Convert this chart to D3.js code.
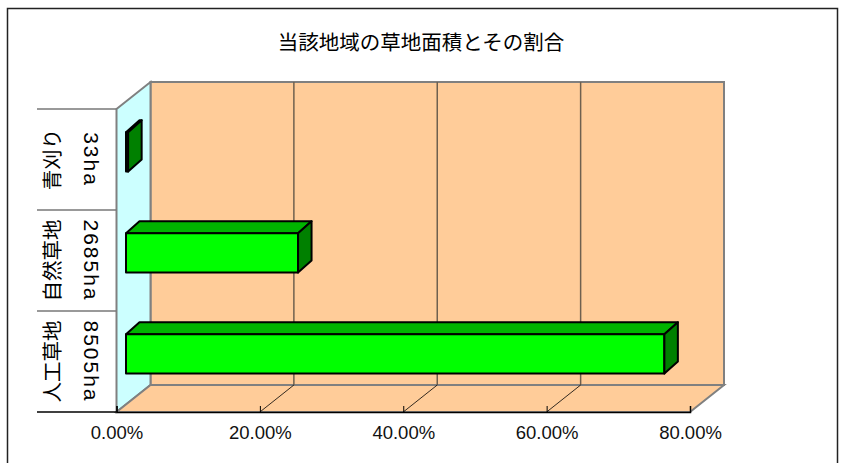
<!DOCTYPE html>
<html>
<head>
<meta charset="utf-8">
<script src="https://cdn.jsdelivr.net/npm/d3@7"></script>
<style>
  body { margin: 0; background: #fff; }
  svg { display: block; }
</style>
</head>
<body>
<div id="chart"></div>
<script>
// Data
const categories = ["青刈り", "自然草地", "人工草地"];
const areas = ["33ha", "2685ha", "8505ha"];
const shares = [0.3, 24.0, 75.1];   // percent of total grassland
const ticks = [0, 20, 40, 60, 80];
const title = "当該地域の草地面積とその割合";

// Size
const svgWidth = 842;
const svgHeight = 463;

// Plot box (front plane) and wall depth
const front = { left: 116.5, right: 690, top: 109, bottom: 412 };
const depth = { dx: 34, dy: -27 };
const barDepth = { dx: 13.5, dy: -12 };
const barShift = 9.5;

const svg = d3.select("#chart")
              .append("svg")
              .attr("width", svgWidth)
              .attr("height", svgHeight);

// Outer frame
svg.append("rect")
   .attr("x", 7.5)
   .attr("y", 8.5)
   .attr("width", 830)
   .attr("height", 480)
   .attr("fill", "none")
   .attr("stroke", "#222")
   .attr("stroke-width", 1.5);

// Title
svg.append("text")
   .attr("x", 421)
   .attr("y", 50)
   .attr("text-anchor", "middle")
   .style("font-family", "'Noto Sans CJK JP'")
   .style("font-size", "20.5px")
   .text(title);

// Scales
const xScale = d3.scaleLinear()
                 .domain([0, 80])
                 .range([front.left, front.right]);

const yScale = d3.scaleBand()
                 .domain(categories)
                 .range([front.top, front.bottom]);

const pts = p => p.map(d => d.join(",")).join(" ");
const bx = front.left + depth.dx, by = front.bottom + depth.dy;

// Back wall
svg.append("rect")
   .attr("x", bx)
   .attr("y", front.top + depth.dy)
   .attr("width", xScale(80) - xScale(0))
   .attr("height", front.bottom - front.top)
   .attr("fill", "#FFCC99")
   .attr("stroke", "#808080")
   .attr("stroke-width", 2);

// Side wall
svg.append("polygon")
   .attr("points", pts([[front.left, front.top], [bx, front.top + depth.dy],
                        [bx, by], [front.left, front.bottom]]))
   .attr("fill", "#CCFFFF")
   .attr("stroke", "#808080")
   .attr("stroke-width", 2);

// Floor
svg.append("polygon")
   .attr("points", pts([[front.left, front.bottom], [bx, by],
                        [xScale(80) + depth.dx, by], [xScale(80), front.bottom]]))
   .attr("fill", "#FFCC99")
   .attr("stroke", "#808080")
   .attr("stroke-width", 2);

// Grid lines on the back wall and floor
const inner = ticks.slice(1, -1);
svg.append("g")
   .selectAll("line")
   .data(inner)
   .enter()
   .append("line")
   .attr("x1", d => xScale(d) + depth.dx)
   .attr("x2", d => xScale(d) + depth.dx)
   .attr("y1", front.top + depth.dy)
   .attr("y2", by)
   .attr("stroke", "#6f604f")
   .attr("stroke-width", 1.5);

svg.append("g")
   .selectAll("line")
   .data(inner)
   .enter()
   .append("line")
   .attr("x1", d => xScale(d))
   .attr("x2", d => xScale(d) + depth.dx)
   .attr("y1", front.bottom)
   .attr("y2", by)
   .attr("stroke", "#000")
   .attr("stroke-width", 0.8);

// X axis along the front edge of the floor
const xAxis = svg.append("g")
                 .attr("transform", `translate(0, ${front.bottom})`)
                 .call(d3.axisTop(xScale)
                         .tickValues(ticks)
                         .tickSize(6)
                         .tickFormat(d => d.toFixed(2) + "%"));
xAxis.select(".domain").attr("stroke", "#000").attr("stroke-width", 1.5);
xAxis.selectAll(".tick line").attr("stroke", "#000");
xAxis.selectAll(".tick text")
     .attr("y", 27)
     .attr("dy", 0)
     .style("font-family", "'Liberation Sans', Arial, sans-serif")
     .style("font-size", "18.5px")
     .attr("fill", "#111");

// Category table lines on the left
const tableLeft = 37;
svg.append("g")
   .selectAll("line")
   .data(categories)
   .enter()
   .append("line")
   .attr("x1", tableLeft)
   .attr("x2", front.left)
   .attr("y1", d => yScale(d))
   .attr("y2", d => yScale(d))
   .attr("stroke", "#777")
   .attr("stroke-width", 1.5);

svg.append("line")
   .attr("x1", tableLeft)
   .attr("x2", front.left)
   .attr("y1", front.bottom)
   .attr("y2", front.bottom)
   .attr("stroke", "#000")
   .attr("stroke-width", 1.5);

// Category names and areas, rotated
const labelFont = "'Noto Sans CJK JP', sans-serif";
svg.append("g")
   .selectAll("text")
   .data(categories)
   .enter()
   .append("text")
   .attr("transform", d => `translate(53, ${yScale(d) + yScale.bandwidth() / 2}) rotate(-90)`)
   .attr("text-anchor", "middle")
   .attr("dy", "0.35em")
   .style("font-family", labelFont)
   .style("font-size", "20.5px")
   .text(d => d);

svg.append("g")
   .selectAll("text")
   .data(areas)
   .enter()
   .append("text")
   .attr("transform", (d, i) => `translate(91, ${yScale(categories[i]) + yScale.bandwidth() / 2}) rotate(90)`)
   .attr("text-anchor", "middle")
   .attr("dy", "0.35em")
   .style("font-family", "'Liberation Sans', Arial, sans-serif")
   .style("font-size", "21px")
   .style("letter-spacing", "2px")
   .text(d => d);

// 3D bars
const bars = svg.append("g")
                .selectAll("g")
                .data(categories.map((c, i) => ({ c, v: shares[i] })))
                .enter()
                .append("g")
                .attr("stroke", "#000")
                .attr("stroke-width", 2)
                .attr("stroke-linejoin", "round");

const faceTop = d => yScale(d.c) + yScale.bandwidth() * 0.23;
const faceH = yScale.bandwidth() * 0.39;
const x0 = xScale(0) + barShift;
const x1 = d => xScale(d.v) + barShift;

// top face
bars.append("polygon")
    .attr("points", d => pts([[x0, faceTop(d)], [x0 + barDepth.dx, faceTop(d) + barDepth.dy],
                              [x1(d) + barDepth.dx, faceTop(d) + barDepth.dy], [x1(d), faceTop(d)]]))
    .attr("fill", "#00B400");

// front face
bars.append("rect")
    .attr("x", x0)
    .attr("y", faceTop)
    .attr("width", d => x1(d) - x0)
    .attr("height", faceH)
    .attr("fill", "#00FF00");

// end face
bars.append("polygon")
    .attr("points", d => pts([[x1(d), faceTop(d)], [x1(d) + barDepth.dx, faceTop(d) + barDepth.dy],
                              [x1(d) + barDepth.dx, faceTop(d) + barDepth.dy + faceH], [x1(d), faceTop(d) + faceH]]))
    .attr("fill", "#008000");
</script>
</body>
</html>
